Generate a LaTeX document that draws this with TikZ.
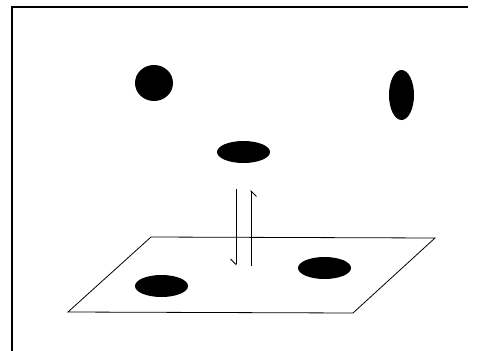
\documentclass[tikz,border=0pt]{standalone}
\usetikzlibrary{arrows.meta}
\begin{document}
\begin{tikzpicture}[x=1pt, y=-1pt,
    blob/.style={fill=black},
    harp/.style={line width=0.8pt, -{Straight Barb[right, length=5.5pt, width=11pt]}}]
  \useasboundingbox (0,0) rectangle (477,351);

    % ========== 边框 ==========
    \draw[line width=1.2pt] (12,351) -- (12,7) -- (468,7);

    % ========== 上：空中的三个粒子 ==========
    \coordinate (C1) at (154,83);
    \coordinate (C2) at (401.5,95);
    \coordinate (C3) at (243.5,152);

    \fill[blob] (C1) ellipse [x radius=19, y radius=18];
    \fill[blob] (C2) ellipse [x radius=12.5, y radius=25];
    \fill[blob] (C3) ellipse [x radius=26.5, y radius=11];

    % ========== 下：平面及其上的两个粒子 ==========
    \coordinate (S1) at (68,312);
    \coordinate (S2) at (151,237);
    \coordinate (S3) at (435,238);
    \coordinate (S4) at (353,313);
    \draw[line width=0.8pt] (S1) -- (S2) -- (S3) -- (S4) -- cycle;

    \coordinate (D1) at (161.5,286);
    \coordinate (D2) at (324.5,268);
    \fill[blob] (D1) ellipse [x radius=26.5, y radius=11];
    \fill[blob] (D2) ellipse [x radius=26.5, y radius=11];

    % 一对半箭头：落下与离开
    \coordinate (A1) at (236,189);
    \coordinate (A2) at (236,265.5);
    \coordinate (B1) at (251,265.5);
    \coordinate (B2) at (251,190);
    \draw[harp] (A1) -- (A2);
    \draw[harp] (B1) -- (B2);

\end{tikzpicture}
\end{document}
